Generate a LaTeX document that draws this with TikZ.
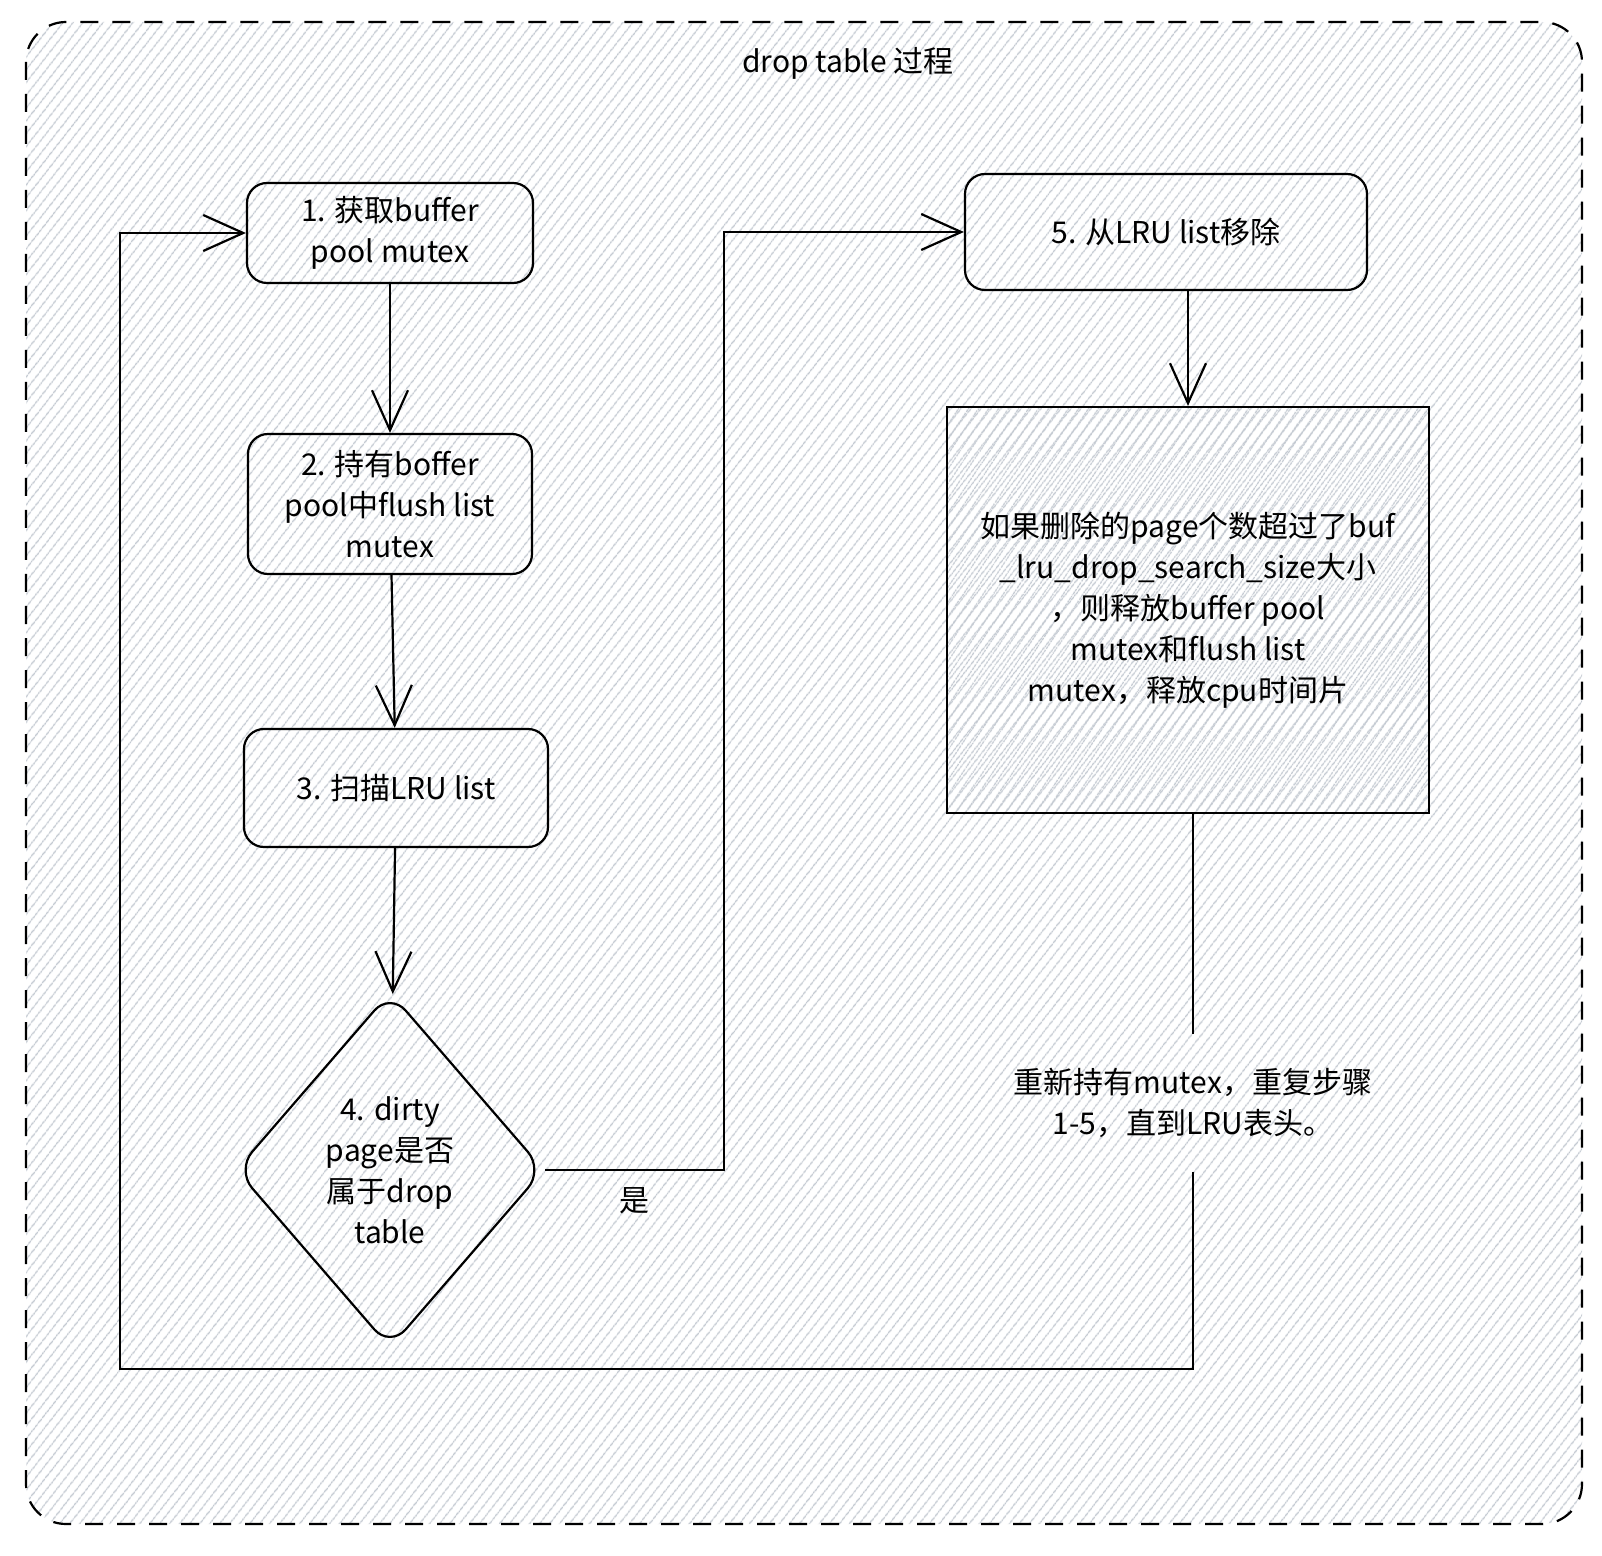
\documentclass[tikz,border=0pt]{standalone}
\usepackage{fontspec}
\setmainfont{Noto Sans CJK SC}
\usetikzlibrary{arrows.meta,patterns.meta,shapes.geometric}

\definecolor{hatchgray}{RGB}{196,202,210}
\tikzset{
  hatch/.style={pattern={Lines[angle=52,distance=4pt,line width=.8pt]}, pattern color=hatchgray},
  hatchb/.style={pattern={Lines[angle=56,distance=4pt,yshift=2pt,line width=.7pt]}, pattern color=hatchgray},
  frame/.style={draw, line width=1.1pt, dash pattern=on 9pt off 7pt, rounded corners=20pt, hatch},
  box/.style={draw, line width=1.1pt, rounded corners=10pt, align=center},
  cond/.style={draw, line width=1.1pt, diamond, rounded corners=12pt, align=center, inner sep=0pt},
  big/.style={draw, line width=1.1pt, align=center},
  arr/.style={line width=1.1pt, -{Straight Barb[length=20pt,width=18pt]}},
  con/.style={line width=1.1pt}
}

\begin{document}
\begin{tikzpicture}[x=0.5pt, y=-0.5pt, font=\fontsize{15}{20.5}\selectfont]
\useasboundingbox (0,0) rectangle (1602,1556);
\fill[white] (0,0) rectangle (1602,1556);
\draw[frame] (26,22) rectangle (1582,1524);
\fill[hatchb] (947,407) rectangle (1430,814);

\node (title) at (848,63) {drop table 过程};
\node[box, minimum width=143pt, minimum height=50pt] (1) at (390,233) {1. 获取buffer\\pool mutex};
\node[box, minimum width=142pt, minimum height=70pt] (2) at (390,504) {2. 持有boffer\\pool中flush list\\mutex};
\node[box, minimum width=152pt, minimum height=59pt] (3) at (396,788) {3. 扫描LRU list};
\node[cond, minimum width=154pt, minimum height=178pt] (4) at (390,1170) {4. dirty\\page是否\\属于drop\\table};
\node[box, minimum width=201pt, minimum height=58pt] (5) at (1166,232) {5. 从LRU list移除};
\node[big, minimum width=241pt, minimum height=203pt] (r) at (1188,610) {如果删除的page个数超过了buf\\\_lru\_drop\_search\_size大小\\，则释放buffer pool\\mutex和flush list\\mutex，释放cpu时间片};
\node[align=center, inner ysep=17pt] (t) at (1193,1103) {重新持有mutex，重复步骤\\1-5，直到LRU表头。};
\coordinate (c) at (120,1369);

\draw[arr] (1) -- (2);
\draw[arr] (2) -- (3);
\draw[arr] (3) -- (4);
\draw[arr] (4.east) -- node[below, pos=.5, inner sep=8pt] {是} ++(179,0) |- (5.west);
\draw[arr] (5.south -| r.north) -- (r.north);
\draw[con] (t.north |- r.south) -- (t.north);
\draw[arr] (t.south) |- (c) |- (1.west);
\end{tikzpicture}
\end{document}
